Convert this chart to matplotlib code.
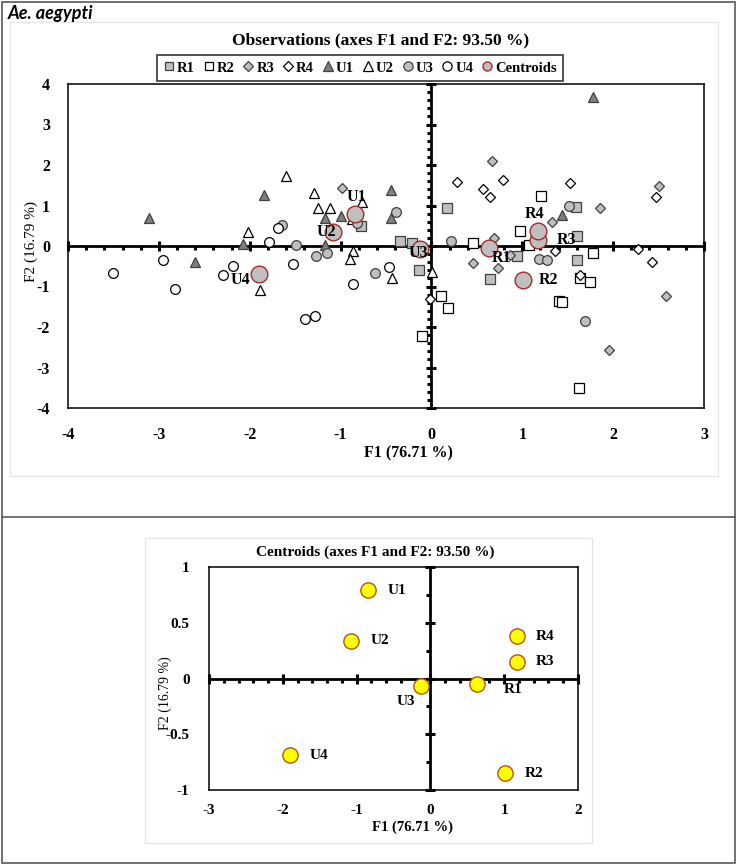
import numpy as np
import matplotlib.pyplot as plt
from matplotlib.patches import Rectangle
from matplotlib.lines import Line2D

plt.rcParams['font.family'] = ['Liberation Serif', 'DejaVu Serif']
plt.rcParams['axes.unicode_minus'] = False

r1_f1 = [-0.35, -0.21, -0.14, -0.77, 0.17, 1.59, 1.60, 0.94, 1.60, 0.65]
r1_f2 = [0.12, 0.07, -0.59, 0.49, 0.94, 0.96, 0.25, -0.25, -0.35, -0.81]
r2_f1 = [1.21, 0.98, 0.46, 1.07, 1.78, 1.64, 1.75, 1.40, 1.44, 1.62, 0.11, 0.18, -0.10]
r2_f2 = [1.23, 0.37, 0.07, 0.02, -0.17, -0.79, -0.89, -1.36, -1.38, -3.51, -1.24, -1.53, -2.22]
r3_f1 = [0.67, 2.51, 1.86, 1.33, 0.69, 0.86, 0.46, 0.73, 2.58, 1.95, -0.98]
r3_f2 = [2.10, 1.48, 0.94, 0.59, 0.20, -0.22, -0.42, -0.54, -1.23, -2.57, 1.43]
r4_f1 = [0.28, 0.79, 0.57, 0.64, 1.52, 2.47, 1.36, 2.27, 2.43, 1.64, -0.02]
r4_f2 = [1.58, 1.63, 1.41, 1.21, 1.56, 1.21, -0.12, -0.07, -0.40, -0.72, -1.31]
u1_f1 = [-3.11, -2.07, -1.84, -0.45, -1.17, -1.00, -0.45, -1.17, -2.60, 1.78, 1.44]
u1_f2 = [0.69, 0.05, 1.26, 1.38, 0.69, 0.74, 0.69, 0.02, -0.40, 3.68, 0.77]
u2_f1 = [-2.02, -1.60, -1.29, -0.76, -1.25, -1.12, -0.87, -0.86, -0.90, -1.89, -0.43, 0.01]
u2_f2 = [0.35, 1.73, 1.31, 1.09, 0.94, 0.94, 0.67, -0.12, -0.32, -1.09, -0.79, -0.64]
u3_f1 = [-1.64, -0.82, -0.39, -1.49, -1.27, -1.15, -0.62, 0.22, 1.51, 1.18, 1.27, 1.69]
u3_f2 = [0.52, 0.57, 0.84, 0.02, -0.25, -0.17, -0.67, 0.12, 0.99, -0.32, -0.35, -1.85]
u4_f1 = [-1.69, -1.79, -1.52, -0.86, -0.47, -1.39, -1.28, -2.95, -3.51, -2.82, -2.18, -2.29]
u4_f2 = [0.45, 0.10, -0.44, -0.94, -0.52, -1.80, -1.73, -0.35, -0.67, -1.06, -0.49, -0.72]

groups = ['R1', 'R2', 'R3', 'R4', 'U1', 'U2', 'U3', 'U4']
obs_f1 = [r1_f1, r2_f1, r3_f1, r4_f1, u1_f1, u2_f1, u3_f1, u4_f1]
obs_f2 = [r1_f2, r2_f2, r3_f2, r4_f2, u1_f2, u2_f2, u3_f2, u4_f2]

centroid_names = ['R1', 'R2', 'R3', 'R4', 'U1', 'U2', 'U3', 'U4']
centroid_f1 = [0.63, 1.01, 1.17, 1.17, -0.84, -1.08, -0.13, -1.90]
centroid_f2 = [-0.05, -0.85, 0.15, 0.38, 0.79, 0.34, -0.07, -0.69]

# marker styles per group: (marker, face, size)
STYLE = {
    'R1': ('s', '#bfbfbf', 6.5), 'R2': ('s', 'white', 6.5),
    'R3': ('D', '#bfbfbf', 5.5), 'R4': ('D', 'white', 5.5),
    'U1': ('^', '#7f7f7f', 7), 'U2': ('^', 'white', 7),
    'U3': ('o', '#bfbfbf', 7), 'U4': ('o', 'white', 7),
}
EDGE = '#404040'
CENT_FACE, CENT_EDGE = '#bfbfbf', '#a52a2a'

# label offsets (points) for centroid names
TOP_OFF = {'R1': (2, -7, 'left'), 'R2': (11, 0, 'left'), 'R3': (14, 0, 'left'),
           'R4': (-2, 12, 'center'), 'U1': (1, 12, 'center'), 'U2': (-5, 0, 'center'),
           'U3': (-1, -3, 'center'), 'U4': (-6, -4, 'right')}
BOT_OFF = {'R1': (19, -4, 'left'), 'R2': (14, 0, 'left'), 'R3': (14, 0, 'left'),
           'R4': (14, 0, 'left'), 'U1': (14, 0, 'left'), 'U2': (14, 0, 'left'),
           'U3': (-4, -11, 'right'), 'U4': (14, 0, 'left')}

W, H = 738, 865


def fx(px):
    return px / W


def fy(py):
    return 1 - py / H


def center_axes(ax, xr, xstep_min, yr, ymaj_step, ystep_min):
    """Thick zero lines with tick marks, like XLSTAT charts."""
    ax.axhline(0, color='black', lw=2, zorder=1)
    ax.axvline(0, color='black', lw=2, zorder=1)
    xmaj = np.arange(xr[0], xr[1] + 1e-9, 1.0)
    xmin = np.round(np.arange(xr[0], xr[1] + 1e-9, xstep_min), 3)
    xmin = xmin[~np.isin(xmin, np.round(xmaj, 3))]
    ymaj = np.round(np.arange(yr[0], yr[1] + 1e-9, ymaj_step), 3)
    ymin = np.round(np.arange(yr[0], yr[1] + 1e-9, ystep_min), 3)
    ymin = ymin[~np.isin(ymin, ymaj)]
    ax.plot(xmaj, np.zeros_like(xmaj), ls='none', marker='|', ms=7, mew=2.2,
            color='black', clip_on=False, zorder=1)
    ax.plot(xmin, np.zeros_like(xmin), ls='none', marker=3, ms=3, mew=2.2,
            color='black', zorder=1)
    ax.plot(np.zeros_like(ymaj), ymaj, ls='none', marker='_', ms=7, mew=2.2,
            color='black', clip_on=False, zorder=1)
    ax.plot(np.zeros_like(ymin), ymin, ls='none', marker=0, ms=3, mew=2.2,
            color='black', zorder=1)


def frame_axes(ax, fs):
    for s in ax.spines.values():
        s.set_linewidth(1.1)
        s.set_color('black')
    ax.tick_params(length=0, labelsize=fs)
    for lab in ax.get_xticklabels() + ax.get_yticklabels():
        lab.set_fontweight('bold')


fig = plt.figure(figsize=(W / 100, H / 100), dpi=100)

# panel borders
fig.add_artist(Rectangle((fx(2), fy(863)), fx(733), 861 / H, transform=fig.transFigure,
                         fill=False, edgecolor='#595959', lw=1.2))
fig.add_artist(Line2D([fx(2), fx(735)], [fy(517), fy(517)], transform=fig.transFigure,
                      color='#595959', lw=1.2))
fig.add_artist(Rectangle((fx(10), fy(476)), fx(708), 454 / H, transform=fig.transFigure,
                         fill=False, edgecolor='#e3e3e3', lw=0.8))
fig.add_artist(Rectangle((fx(145), fy(843)), fx(447), 305 / H, transform=fig.transFigure,
                         fill=False, edgecolor='#e3e3e3', lw=0.8))

fig.text(fx(8), fy(14), 'Ae. aegypti', family=['Lato', 'DejaVu Sans'], fontsize=13,
         fontweight='bold', style='italic', va='center', ha='left')

# ---------- observations ----------
ax = fig.add_axes([fx(68), fy(408), fx(636), 324 / H])
ax.set_xlim(-4, 3)
ax.set_ylim(-4, 4)
ax.set_xticks(range(-4, 4))
ax.set_yticks(range(-4, 5))
frame_axes(ax, 11.5)
ax.tick_params(axis='x', pad=14)
ax.tick_params(axis='y', pad=13)
center_axes(ax, (-4, 3), 0.2, (-4, 4), 1.0, 0.2)

for g, xs, ys in zip(groups, obs_f1, obs_f2):
    mk, fc, ms = STYLE[g]
    ax.plot(xs, ys, ls='none', marker=mk, ms=ms, mfc=fc, mec=EDGE if fc != 'white' else 'black',
            mew=0.9, zorder=3)

ax.plot(centroid_f1, centroid_f2, ls='none', marker='o', ms=12, mfc=CENT_FACE,
        mec=CENT_EDGE, mew=1.0, zorder=4)
for n, x, y in zip(centroid_names, centroid_f1, centroid_f2):
    dx, dy, ha = TOP_OFF[n]
    ax.annotate(n, (x, y), xytext=(dx, dy), textcoords='offset points', ha=ha,
                va='center', fontsize=11.5, fontweight='bold', zorder=5)

fig.text(fx(381), fy(40), 'Observations (axes F1 and F2: 93.50 %)', ha='center',
         va='center', fontsize=12.5, fontweight='bold')
fig.text(fx(408), fy(453), 'F1 (76.71 %)', ha='center', va='center', fontsize=11.5,
         fontweight='bold')
fig.text(fx(31), fy(241), 'F2 (16.79 %)', ha='center', va='center', fontsize=11,
         rotation=90)

handles = []
for g in groups:
    mk, fc, ms = STYLE[g]
    handles.append(Line2D([], [], ls='none', marker=mk, ms=ms * 0.95, mfc=fc,
                          mec=EDGE if fc != 'white' else 'black', mew=0.9))
handles.append(Line2D([], [], ls='none', marker='o', ms=6.5, mfc=CENT_FACE,
                      mec=CENT_EDGE, mew=1.0))
leg = fig.legend(handles, groups + ['Centroids'], loc='center',
                 bbox_to_anchor=(fx(360), fy(68)), ncol=9, frameon=True,
                 fancybox=False, edgecolor='black', handlelength=0.8,
                 handletextpad=0.15, columnspacing=0.55, borderpad=0.45,
                 prop={'weight': 'bold', 'size': 10.5})
leg.get_frame().set_linewidth(1.2)

# ---------- centroids ----------
ax2 = fig.add_axes([fx(209), fy(790), fx(369), 223 / H])
ax2.set_xlim(-3, 2)
ax2.set_ylim(-1, 1)
ax2.set_xticks(range(-3, 3))
ax2.set_yticks([-1, -0.5, 0, 0.5, 1])
ax2.set_yticklabels(['-1', '-0.5', '0', '0.5', '1'])
frame_axes(ax2, 11)
ax2.tick_params(axis='x', pad=10)
ax2.tick_params(axis='y', pad=14)
center_axes(ax2, (-3, 2), 0.2, (-1, 1), 0.5, 0.25)

ax2.plot(centroid_f1, centroid_f2, ls='none', marker='o', ms=11, mfc='#ffff00',
         mec='#b8530f', mew=1.0, zorder=4)
for n, x, y in zip(centroid_names, centroid_f1, centroid_f2):
    dx, dy, ha = BOT_OFF[n]
    ax2.annotate(n, (x, y), xytext=(dx, dy), textcoords='offset points', ha=ha,
                 va='center', fontsize=11, fontweight='bold', zorder=5)

fig.text(fx(375), fy(552), 'Centroids (axes F1 and F2: 93.50 %)', ha='center',
         va='center', fontsize=11, fontweight='bold')
fig.text(fx(413), fy(827), 'F1 (76.71 %)', ha='center', va='center', fontsize=10.5,
         fontweight='bold')
fig.text(fx(165), fy(693), 'F2 (16.79 %)', ha='center', va='center', fontsize=10,
         rotation=90)

fig.savefig('out.png', dpi=100)
plt.close(fig)
